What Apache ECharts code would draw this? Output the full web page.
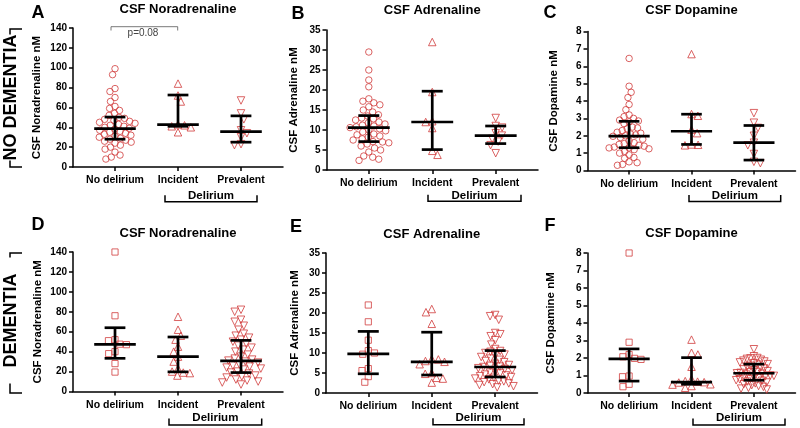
<!DOCTYPE html>
<html><head><meta charset="utf-8">
<script src="https://cdn.jsdelivr.net/npm/echarts@6/dist/echarts.min.js"></script>
<style>html,body{margin:0;padding:0;background:#fff}#c{width:800px;height:428px}</style>
</head><body><div id="c"></div>
<script>
const categories = ['No delirium', 'Incident', 'Prevalent'];

// A: CSF Noradrenaline, no dementia
const noraNoDem_noDel = [99, 93, 79, 76, 70, 66, 61, 59, 57, 54, 52, 50, 49, 48, 47, 46, 45, 44, 43, 42, 41, 40, 39, 38, 37, 36, 35, 34, 33, 32, 31, 30, 29, 28, 27, 26, 25, 24, 22, 20, 18, 15, 12, 10, 8];
const noraNoDem_inc = [84, 72, 66, 43, 42, 41, 40, 35];
const noraNoDem_prev = [67, 54, 48, 37, 34, 30, 23, 22];
const noraNoDem_median = [38.7, 42.6, 35.7];
const noraNoDem_q1 = [28, 41, 25];
const noraNoDem_q3 = [50.3, 72.5, 51.5];

// B: CSF Adrenaline, no dementia
const adrNoDem_noDel = [29.5, 25, 22.5, 20.8, 17.8, 17.2, 16.8, 16.3, 15.8, 15, 14.5, 13.8, 13.5, 13, 12.8, 12.5, 12, 11.8, 11.5, 11.2, 11, 10.8, 10.6, 10.3, 10, 9.8, 9.5, 9, 8.8, 8.5, 8.2, 7.8, 7.5, 7.1, 7, 6.8, 6.5, 6, 5.5, 5, 4.5, 3.5, 3.2, 2.7, 2.4];
const adrNoDem_inc = [32, 19.5, 12.2, 12, 10.5, 4.8, 3.8];
const adrNoDem_prev = [13, 11, 10.6, 9.2, 8.6, 7.8, 7.1, 6.2, 4.2];
const adrNoDem_median = [10.6, 12.0, 8.6];
const adrNoDem_q1 = [7.1, 5.1, 6.6];
const adrNoDem_q3 = [13.6, 19.7, 11.0];

// C: CSF Dopamine, no dementia
const dopaNoDem_noDel = [6.45, 4.85, 4.5, 4.2, 3.8, 3.5, 3.2, 3.1, 3.0, 2.9, 2.85, 2.8, 2.7, 2.5, 2.45, 2.4, 2.3, 2.2, 2.15, 2.1, 2.05, 2.0, 1.97, 1.9, 1.8, 1.7, 1.6, 1.55, 1.5, 1.45, 1.4, 1.35, 1.3, 1.3, 1.25, 1.2, 1.1, 1.0, 0.9, 0.75, 0.7, 0.5, 0.45, 0.35, 0.3];
const dopaNoDem_inc = [6.7, 3.25, 3.15, 2.35, 2.15, 1.5, 1.48, 1.45];
const dopaNoDem_prev = [3.3, 2.75, 2.45, 2.0, 1.6, 1.45, 0.95, 0.5, 0.42];
const dopaNoDem_median = [1.98, 2.26, 1.61];
const dopaNoDem_q1 = [1.31, 1.5, 0.6];
const dopaNoDem_q3 = [2.83, 3.24, 2.59];

// D: CSF Noradrenaline, dementia
const noraDem_noDel = [140, 76, 52, 51, 47.5, 47, 40, 38, 28, 19.5];
const noraDem_inc = [75, 62, 56, 52, 45, 40, 35, 30, 23, 20, 19, 18.5, 16];
const noraDem_prev = [82, 80, 72, 70, 66, 62, 58, 56, 54, 52, 50, 48, 46, 44, 42, 40, 37, 35, 33, 32, 31, 30, 29, 27, 26, 25, 24, 23, 22, 20, 19, 18, 16, 15, 14, 12, 11, 10, 9, 7];
const noraDem_median = [47.3, 35.0, 30.7];
const noraDem_q1 = [33.3, 19.7, 19.0];
const noraDem_q3 = [64.0, 54.7, 51.3];

// E: CSF Adrenaline, dementia
const adrDem_noDel = [22, 17.8, 13.2, 10.6, 10, 9.7, 6.1, 5.6, 4.1, 2.7];
const adrDem_inc = [21, 20.2, 17.3, 8.5, 8.4, 8, 7.8, 7.2, 5, 4.8, 3.8, 3.6, 2.6];
const adrDem_prev = [19.5, 19.2, 18.3, 15, 14.7, 14.2, 13.2, 12.1, 11, 10.5, 10.3, 10, 9.6, 9.3, 9, 8.6, 8.3, 8, 7.7, 7.3, 7, 6.8, 6.6, 6.5, 6.2, 6, 5.7, 5.4, 5.1, 4.9, 4.6, 4.4, 4.2, 4.0, 3.8, 3.6, 3.4, 3.1, 2.9, 2.7, 2.4, 2.2, 2, 1.7, 1.4];
const adrDem_median = [9.8, 7.8, 6.5];
const adrDem_q1 = [4.8, 4.5, 4.0];
const adrDem_q3 = [15.4, 15.2, 10.6];

// F: CSF Dopamine, dementia
const dopaDem_noDel = [8, 2.9, 2.2, 2.07, 1.98, 1.92, 0.97, 0.93, 0.5, 0.36];
const dopaDem_inc = [3.05, 2.3, 2.2, 1.5, 0.8, 0.68, 0.65, 0.62, 0.6, 0.5, 0.48, 0.4, 0.3];
const dopaDem_prev = [2.5, 2.1, 2.0, 1.98, 1.95, 1.9, 1.85, 1.8, 1.75, 1.7, 1.65, 1.62, 1.55, 1.5, 1.45, 1.4, 1.35, 1.3, 1.25, 1.2, 1.18, 1.15, 1.13, 1.1, 1.05, 1.0, 0.98, 0.95, 0.9, 0.88, 0.85, 0.8, 0.78, 0.73, 0.7, 0.65, 0.6, 0.55, 0.5, 0.45, 0.4, 0.35, 0.3, 0.25, 0.2];
const dopaDem_median = [1.95, 0.62, 1.13];
const dopaDem_q1 = [0.68, 0.5, 0.73];
const dopaDem_q3 = [2.52, 2.02, 1.65];

// ---- layout / style ----
const RED = '#d13c3c';
const FONT = 'Liberation Sans, Arial, sans-serif';
const XMIN = -2 / 3, XMAX = 8 / 3;

const panels = [
  { letter: 'A', title: 'CSF Noradrenaline', yName: 'CSF Noradrenaline nM', max: 140, interval: 20,
    groups: [noraNoDem_noDel, noraNoDem_inc, noraNoDem_prev], med: noraNoDem_median, q1: noraNoDem_q1, q3: noraNoDem_q3,
    grid: { left: 73, top: 28, width: 210, height: 139 }, nameGap: 30, row: 0 },
  { letter: 'B', title: 'CSF Adrenaline', yName: 'CSF Adrenaline nM', max: 35, interval: 5,
    groups: [adrNoDem_noDel, adrNoDem_inc, adrNoDem_prev], med: adrNoDem_median, q1: adrNoDem_q1, q3: adrNoDem_q3,
    grid: { left: 326.5, top: 30, width: 211.5, height: 140 }, nameGap: 27, row: 0 },
  { letter: 'C', title: 'CSF Dopamine', yName: 'CSF Dopamine nM', max: 8, interval: 1,
    groups: [dopaNoDem_noDel, dopaNoDem_inc, dopaNoDem_prev], med: dopaNoDem_median, q1: dopaNoDem_q1, q3: dopaNoDem_q3,
    grid: { left: 587.5, top: 31.5, width: 208, height: 139 }, nameGap: 28, row: 0 },
  { letter: 'D', title: 'CSF Noradrenaline', yName: 'CSF Noradrenaline nM', max: 140, interval: 20,
    groups: [noraDem_noDel, noraDem_inc, noraDem_prev], med: noraDem_median, q1: noraDem_q1, q3: noraDem_q3,
    grid: { left: 73, top: 252, width: 210, height: 139.5 }, nameGap: 29, row: 1 },
  { letter: 'E', title: 'CSF Adrenaline', yName: 'CSF Adrenaline nM', max: 35, interval: 5,
    groups: [adrDem_noDel, adrDem_inc, adrDem_prev], med: adrDem_median, q1: adrDem_q1, q3: adrDem_q3,
    grid: { left: 326, top: 253, width: 211.5, height: 140 }, nameGap: 25, row: 1 },
  { letter: 'F', title: 'CSF Dopamine', yName: 'CSF Dopamine nM', max: 8, interval: 1,
    groups: [dopaDem_noDel, dopaDem_inc, dopaDem_prev], med: dopaDem_median, q1: dopaDem_q1, q3: dopaDem_q3,
    grid: { left: 587.5, top: 253, width: 208, height: 140 }, nameGap: 31, row: 1 }
];

// beeswarm offsets (pixels) so markers do not overlap; wide swarms are squeezed
function swarm(values, pxPerY, d, maxHalf) {
  const order = values.map((v, i) => i).sort((a, b) => values[b] - values[a]);
  const placed = [];
  const off = new Array(values.length).fill(0);
  let flip = 1;
  order.forEach(i => {
    const y = values[i] * pxPerY;
    const near = placed.filter(p => Math.abs(p.y - y) < d);
    const cands = [0];
    near.forEach(p => {
      const dx = Math.sqrt(d * d - (p.y - y) * (p.y - y));
      cands.push(p.x + dx + 0.01, p.x - dx - 0.01);
    });
    cands.sort((a, b) => (Math.abs(a) - Math.abs(b)) || (flip * (b - a)));
    let x = 0;
    for (const c of cands) {
      if (near.every(p => (p.x - c) * (p.x - c) + (p.y - y) * (p.y - y) >= d * d - 0.05)) { x = c; break; }
    }
    flip = -flip;
    placed.push({ x, y });
    off[i] = x;
  });
  const m = Math.max(...off.map(Math.abs));
  const s = m > maxHalf ? maxHalf / m : 1;
  return off.map(o => o * s);
}

const grids = [], xAxes = [], yAxes = [], series = [];
panels.forEach((p, k) => {
  grids.push(Object.assign({ containLabel: false }, p.grid));
  xAxes.push({
    type: 'value', gridIndex: k, min: XMIN, max: XMAX,
    axisLine: { show: true, onZero: false, lineStyle: { color: '#000', width: 1.5 } },
    axisTick: { show: true, customValues: [0, 1, 2], length: 4, lineStyle: { color: '#000', width: 1.5 } },
    axisLabel: { show: true, customValues: [0, 1, 2], formatter: v => categories[Math.round(v)] || '',
      margin: 8, color: '#000', fontWeight: 'bold', fontSize: 10.5, fontFamily: FONT },
    splitLine: { show: false }
  });
  yAxes.push({
    type: 'value', gridIndex: k, min: 0, max: p.max, interval: p.interval,
    name: p.yName, nameLocation: 'middle', nameRotate: 90, nameGap: p.nameGap,
    nameTextStyle: { color: '#000', fontWeight: 'bold', fontSize: 11.5, fontFamily: FONT },
    axisLine: { show: true, onZero: false, lineStyle: { color: '#000', width: 1.5 } },
    axisTick: { show: true, length: 4, lineStyle: { color: '#000', width: 1.5 } },
    axisLabel: { margin: 6, color: '#000', fontWeight: 'bold', fontSize: 10, fontFamily: FONT },
    splitLine: { show: false }
  });
  const pxPerY = p.grid.height / p.max;
  const pxPerX = p.grid.width / (XMAX - XMIN);
  const shapes = p.row === 0
    ? [{ s: 'circle', size: 6.5, r: 0 }, { s: 'triangle', size: 7.5, r: 0 }, { s: 'triangle', size: 7.5, r: 180 }]
    : [{ s: 'rect', size: 6.2, r: 0 }, { s: 'triangle', size: 7.5, r: 0 }, { s: 'triangle', size: 7.5, r: 180 }];
  p.groups.forEach((vals, g) => {
    const off = swarm(vals, pxPerY, 6.6, 20);
    series.push({
      type: 'scatter', xAxisIndex: k, yAxisIndex: k, name: p.letter + ' ' + categories[g],
      symbol: shapes[g].s, symbolSize: shapes[g].size, symbolRotate: shapes[g].r,
      itemStyle: { color: 'rgba(255,255,255,0)', borderColor: RED, borderWidth: 1 },
      data: vals.map((v, i) => [g + off[i] / pxPerX, v]),
      silent: true, z: 2
    });
  });
  series.push({
    type: 'custom', xAxisIndex: k, yAxisIndex: k, z: 5, silent: true,
    data: [0, 1, 2].map(g => [g, p.med[g], p.q1[g], p.q3[g]]),
    renderItem: (params, api) => {
      const x = api.value(0);
      const m = api.coord([x, api.value(1)]);
      const lo = api.coord([x, api.value(2)]);
      const hi = api.coord([x, api.value(3)]);
      const unit = api.size([1, 0])[0];
      const mh = 0.33 * unit, ch = 0.165 * unit;
      const st = { stroke: '#000', lineWidth: 2.7 };
      return { type: 'group', children: [
        { type: 'line', shape: { x1: m[0], y1: lo[1], x2: m[0], y2: hi[1] }, style: st },
        { type: 'line', shape: { x1: m[0] - ch, y1: lo[1], x2: m[0] + ch, y2: lo[1] }, style: st },
        { type: 'line', shape: { x1: m[0] - ch, y1: hi[1], x2: m[0] + ch, y2: hi[1] }, style: st },
        { type: 'line', shape: { x1: m[0] - mh, y1: m[1], x2: m[0] + mh, y2: m[1] }, style: st }
      ] };
    }
  });
});

// decorations
const letterPos = [[38, 13.5], [298, 14], [550, 13.5], [38, 225.5], [296, 227], [550, 226]];
const titleY = [9, 10.5, 10.8, 233.8, 234.3, 233.5];
const delBr = [[165, 257, 201.7, 196], [428, 521, 201.3, 196], [689, 780.7, 201.5, 196],
               [169, 261.7, 425, 418], [433, 524, 424.7, 418], [693, 785, 425, 418]];
const graphic = [];
panels.forEach((p, k) => {
  graphic.push({ type: 'text', x: letterPos[k][0], y: letterPos[k][1], silent: true,
    style: { text: p.letter, align: 'center', verticalAlign: 'middle', font: 'bold 18px ' + FONT, fill: '#000' } });
  graphic.push({ type: 'text', x: p.grid.left + p.grid.width / 2, y: titleY[k], silent: true,
    style: { text: p.title, align: 'center', verticalAlign: 'middle', font: 'bold 13px ' + FONT, fill: '#000' } });
  const b = delBr[k];
  graphic.push({ type: 'polyline', silent: true, shape: { points: [[b[0], b[2] - 6.5], [b[0], b[2]], [b[1], b[2]], [b[1], b[2] - 6.5]] },
    style: { stroke: '#000', lineWidth: 1.5, fill: null } });
  graphic.push({ type: 'text', x: (b[0] + b[1]) / 2, y: b[3], silent: true,
    style: { text: 'Delirium', align: 'center', verticalAlign: 'middle', font: 'bold 11.5px ' + FONT, fill: '#000' } });
});
// row labels: bracket behind a white-backed rotated label
[['NO DEMENTIA', 97.5, 29, 167, 0], ['DEMENTIA', 320.5, 253, 393, 16]].forEach(r => {
  graphic.push({ type: 'polyline', silent: true, z: 1, shape: { points: [[22, r[2]], [10, r[2]], [10, r[3]], [22, r[3]]] },
    style: { stroke: '#000', lineWidth: 1.5, fill: null } });
  graphic.push({ type: 'text', x: 11, y: r[1], rotation: Math.PI / 2, silent: true, z: 2,
    style: { text: r[0], align: 'center', verticalAlign: 'middle', font: 'bold 18px ' + FONT, fill: '#000',
      backgroundColor: '#fff', padding: [1, r[4], 1, r[4]] } });
});
// significance annotation
graphic.push({ type: 'polyline', silent: true, shape: { points: [[111, 30.5], [111, 26.7], [177.7, 26.7], [177.7, 30.5]] },
  style: { stroke: '#555', lineWidth: 0.8, fill: null } });
graphic.push({ type: 'text', x: 143, y: 33.5, silent: true,
  style: { text: 'p=0.08', align: 'center', verticalAlign: 'middle', font: '10px ' + FONT, fill: '#444' } });

const chart = echarts.init(document.getElementById('c'), null, { renderer: 'canvas' });
chart.setOption({
  animation: false,
  backgroundColor: '#fff',
  grid: grids, xAxis: xAxes, yAxis: yAxes, series: series, graphic: graphic
});
</script></body></html>
